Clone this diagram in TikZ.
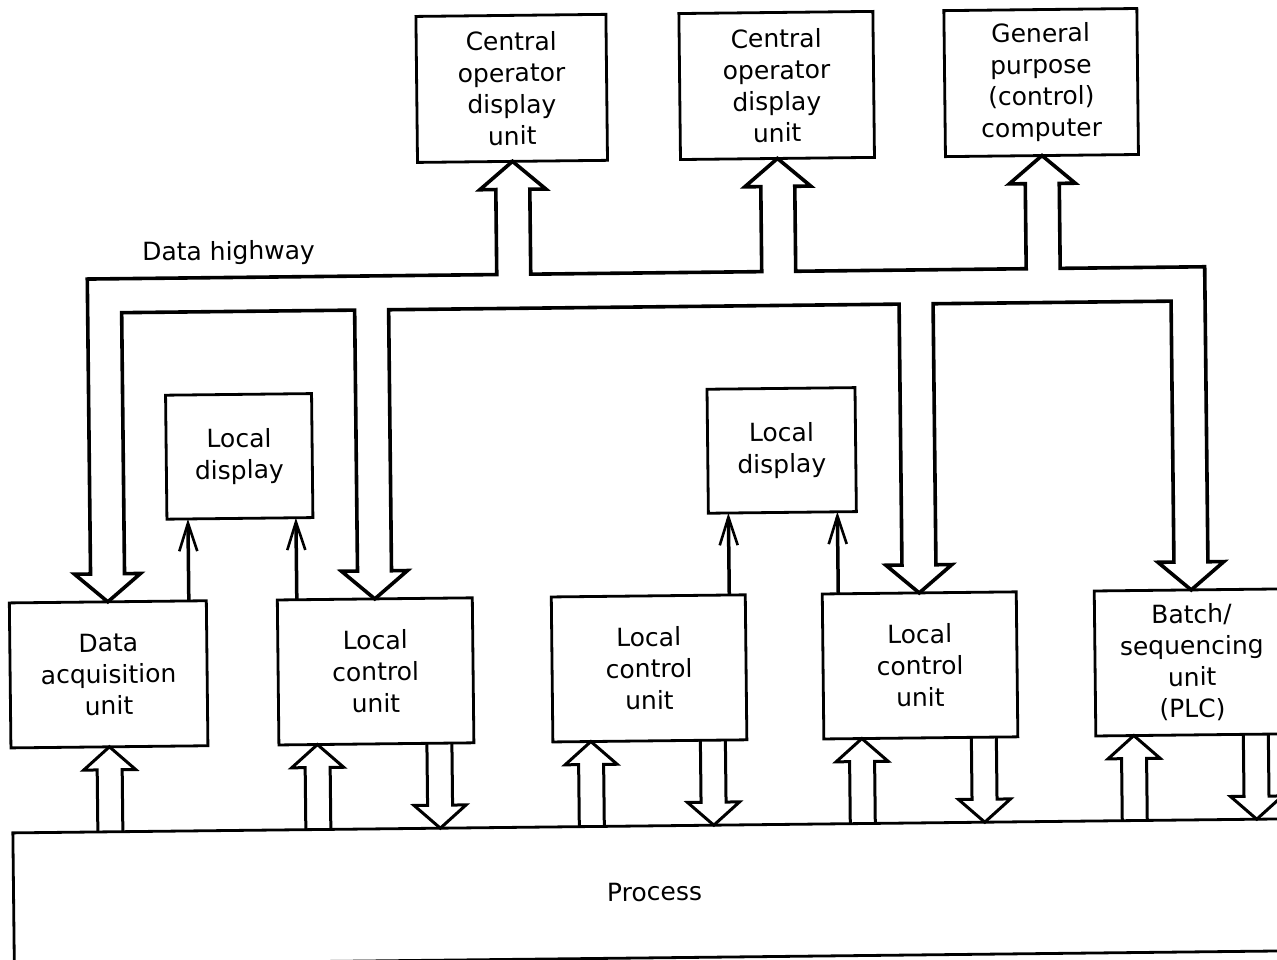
\documentclass[tikz,border=0pt]{standalone}
\usepackage{fontspec}
\setmainfont{DejaVu Sans}
\usetikzlibrary{calc,arrows.meta}

% hollow block arrow from the process up into a unit (#1 = unit, #2 = x offset)
\newcommand\procup[2]{%
  \draw[parrow] ($(#1.south)+(#2,0)$) ++(-12.5,85) -- ++(0,-62) -- ++(-13.5,0)
    -- ++(26,-23) -- ++(26,23) -- ++(-13.5,0) -- ++(0,62);}
% hollow block arrow from a unit down into the process
\newcommand\procdown[2]{%
  \draw[parrow] ($(#1.south)+(#2,0)$) ++(-12.5,0) -- ++(0,62) -- ++(-13.5,0)
    -- ++(26,23) -- ++(26,-23) -- ++(-13.5,0) -- ++(0,-62);}

\begin{document}
\begin{tikzpicture}[x=1pt,y=-1pt,
  txt/.style={font=\fontsize{25}{31.5}\selectfont},
  box/.style={draw, line width=2.8pt, outer sep=0pt, inner sep=0pt,
    align=center, txt},
  unit/.style={box, minimum width=195pt, minimum height=145pt},
  topunit/.style={box, minimum width=192pt, minimum height=146pt},
  display/.style={box, minimum width=146pt, minimum height=124pt},
  bus/.style={draw, line width=3.6pt, line join=miter, miter limit=10},
  parrow/.style={draw, line width=3pt, line join=miter, miter limit=10},
  link/.style={draw, line width=3.5pt,
    -{Straight Barb[length=28pt,width=18pt,line width=2.6pt]}}]
\fill[white] (0,0) rectangle (1277,960);
\useasboundingbox (0,0) rectangle (1277,960);
\clip (0,0) rectangle (1277,960);
\begin{scope}[transform canvas={rotate around={0.63:(638,480)}}]

% operator level
\node[topunit, minimum width=190pt] (cod1) at (516,87) {Central\\operator\\display\\unit};
\node[topunit, minimum width=194pt] (cod2) at (781,87) {Central\\operator\\display\\unit};
\node[topunit, minimum width=193pt] (gpc) at (1045.5,87) {General\\purpose\\(control)\\computer};

% local displays
\node[display] (ld1) at (239.5,452) {Local\\display};
\node[display, minimum width=148pt] (ld2) at (782,452) {Local\\display};

% field units
\node[unit, minimum width=197pt] (dau) at (106.5,668.5) {Data\\acquisition\\unit};
\node[unit] (lcu1) at (373.5,668.5) {Local\\control\\unit};
\node[unit, minimum width=194pt] (lcu2) at (647,668.5) {Local\\control\\unit};
\node[unit, minimum width=194pt] (lcu3) at (918,668.5) {Local\\control\\unit};
\node[unit, minimum width=194pt] (bsu) at (1190,668.5) {Batch/\\sequencing\\unit\\(PLC)};

% plant
\node[box, minimum width=1282pt, minimum height=132pt] (proc) at (650,892) {Process};

% data highway
\node[txt, inner sep=0pt, anchor=base west] (hwylabel) at (144.5,255.5) {Data highway};
\draw[bus] (89.5,568) -- (89.5,273) -- (499,273) -- (499,188) -- (483,188)
  -- (cod1.south) -- (549,188) -- (533,188) -- (533,273)
  -- (764,273) -- (764,188) -- (748,188) -- (cod2.south) -- (814,188)
  -- (798,188) -- (798,273)
  -- (1028.5,273) -- (1028.5,188) -- (1012.5,188) -- (gpc.south)
  -- (1078.5,188) -- (1062.5,188) -- (1062.5,273)
  -- (1207,273) -- (1207,568) -- (1223,568) -- (bsu.north) -- (1157,568)
  -- (1173,568) -- (1173,307)
  -- (935,307) -- (935,568) -- (951,568) -- (lcu3.north) -- (885,568)
  -- (901,568) -- (901,307)
  -- (390.5,307) -- (390.5,568) -- (406.5,568) -- (lcu1.north) -- (340.5,568)
  -- (356.5,568) -- (356.5,307)
  -- (123.5,307) -- (123.5,568) -- (139.5,568) -- (dau.north) -- (73.5,568)
  -- cycle;

% links to the local displays
\coordinate (u1) at ($(ld1.south)+(-52,0)$);
\coordinate (u2) at ($(ld1.south)+(56,0)$);
\coordinate (u3) at ($(ld2.south)+(-54,0)$);
\coordinate (u4) at ($(ld2.south)+(55,0)$);
\draw[link] (u1 |- dau.north) -- (u1);
\draw[link] (u2 |- lcu1.north) -- (u2);
\draw[link] (u3 |- lcu2.north) -- (u3);
\draw[link] (u4 |- lcu3.north) -- (u4);

% process connections
\procup{dau}{0}
\procup{lcu1}{-59}
\procdown{lcu1}{63}
\procup{lcu2}{-59}
\procdown{lcu2}{63}
\procup{lcu3}{-59}
\procdown{lcu3}{63}
\procup{bsu}{-59}
\procdown{bsu}{63}
\end{scope}
\end{tikzpicture}
\end{document}
